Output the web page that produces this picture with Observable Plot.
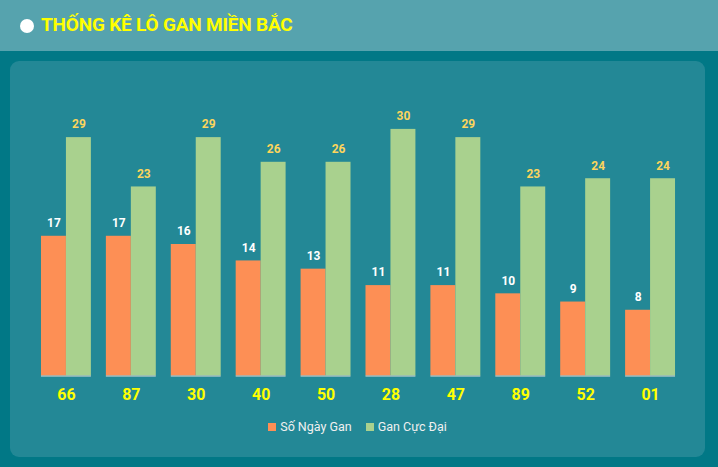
<!DOCTYPE html>
<html>
<head>
<meta charset="utf-8">
<script src="https://cdn.jsdelivr.net/npm/d3@7"></script>
<script src="https://cdn.jsdelivr.net/npm/@observablehq/plot@0.6"></script>
<style>
  html, body { margin: 0; padding: 0; }
  body { width: 718px; height: 467px; background: #017886; position: relative; overflow: hidden; font-family: Roboto, "Open Sans", sans-serif; }
  #header { position: absolute; left: 0; top: 0; width: 718px; height: 51px; background: #56a3ae; }
  #dot { position: absolute; left: 20px; top: 19px; width: 14px; height: 14px; border-radius: 50%; background: #fff; }
  #title { position: absolute; left: 41px; top: 13px; font: bold 19px Roboto, sans-serif; color: #ffff00; letter-spacing: -0.2px; white-space: nowrap; }
  #panel { position: absolute; left: 10px; top: 61px; width: 695px; height: 396px; background: #238896; border-radius: 9px; }
  #chart { position: absolute; left: 1px; top: 0; }
  #legend { position: absolute; left: 0; top: 358px; width: 695px; text-align: center; font: 12.5px Roboto, sans-serif; color: #f0f0f0; }
  .sw { display: inline-block; width: 8px; height: 8px; margin-right: 4px; vertical-align: 0px; }
  .item { display: inline-block; margin: 0 7px; }
</style>
</head>
<body>
<div id="header"><div id="dot"></div><div id="title">THỐNG KÊ LÔ GAN MIỀN BẮC</div></div>
<div id="panel"><div id="chart"></div>
<div id="legend"><span class="item"><span class="sw" style="background:#fd8f55"></span>Số Ngày Gan</span><span class="item"><span class="sw" style="background:#a9d18e"></span>Gan Cực Đại</span></div>
</div>
<script>
const numbers = ["66","87","30","40","50","28","47","89","52","01"];
const soNgayGan = [17,17,16,14,13,11,11,10,9,8];
const ganCucDai = [29,23,29,26,26,30,29,23,24,24];
const seriesNames = ["Số Ngày Gan","Gan Cực Đại"];
const seriesColors = ["#fd8f55","#a9d18e"];
const labelColors = ["#ffffff","#fcd55c"];

const data = [];
numbers.forEach((n,i) => {
  data.push({num:n, series:seriesNames[0], value:soNgayGan[i]});
  data.push({num:n, series:seriesNames[1], value:ganCucDai[i]});
});

const chart = Plot.plot({
  width: 695,
  height: 350,
  marginLeft: 23,
  marginRight: 22,
  marginTop: 68,
  marginBottom: 35,
  style: {background: "transparent", overflow: "visible"},
  fx: {domain: numbers, paddingInner: 0.23, paddingOuter: 0.115, label: null, axis: null},
  x: {domain: seriesNames, padding: 0, axis: null},
  y: {domain: [0,30], axis: null},
  color: {domain: seriesNames, range: seriesColors},
  marks: [
    Plot.barY(data, {fx:"num", x:"series", y:"value", fill:"series"}),
    Plot.text(data, {fx:"num", x:"series", y:"value", text: d => String(d.value), dy:-13,
      fill: d => d.series === seriesNames[0] ? labelColors[0] : labelColors[1],
      fontWeight:"bold", fontSize:12, fontFamily:"Roboto, sans-serif"}),
    Plot.ruleY([0], {stroke:"#d8d8d8", strokeWidth:1}),
    Plot.text(numbers, {fx: d => d, frameAnchor:"bottom", text: d => d, dy: 24,
      fill:"#ffff00", fontWeight:"bold", fontSize:16, fontFamily:"Roboto, sans-serif"})
  ]
});
document.getElementById("chart").appendChild(chart);
</script>
</body>
</html>
